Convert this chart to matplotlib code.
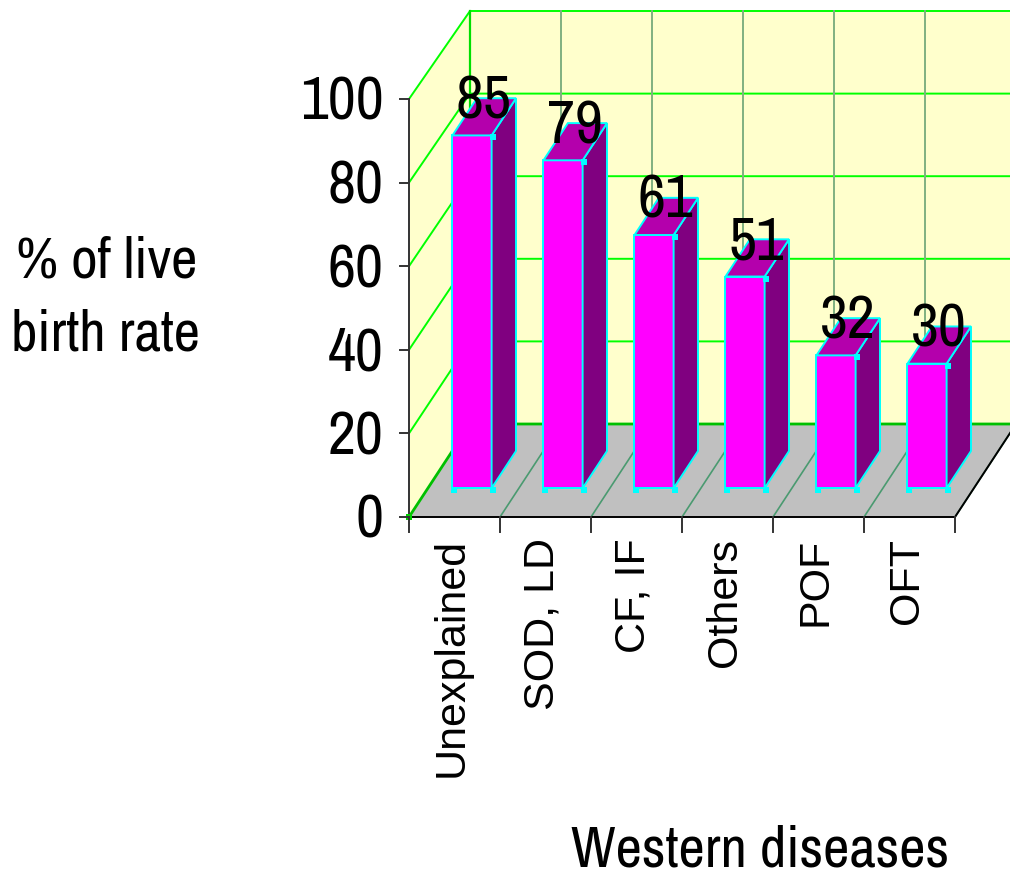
import logging
import matplotlib
matplotlib.use('Agg')
import matplotlib.pyplot as plt
from matplotlib.patches import Polygon
from matplotlib import font_manager

logging.getLogger('matplotlib.font_manager').setLevel(logging.ERROR)

categories = ['Unexplained', 'SOD, LD', 'CF, IF', 'Others', 'POF', 'OFT']
values = [85, 79, 61, 51, 32, 30]
y_ticks = [0, 20, 40, 60, 80, 100]

# narrow face if there is one, otherwise plain Liberation Sans
installed = {f.name for f in font_manager.fontManager.ttflist}
NARROW = [f for f in ['Archivo Narrow', 'Roboto Condensed', 'Liberation Sans'] if f in installed]
BIG = 44 if NARROW[0] != 'Liberation Sans' else 37
TITLE = 41.5 if NARROW[0] != 'Liberation Sans' else 34

WIDTH, HEIGHT = 1010, 878

# one category is 91 px wide, 100 % is 418 px high on the axis
CAT_PX = 91.0
VAL_PX = 4.18
X0, Y0 = 409, 518
DEPTH_X = 61 / CAT_PX
DEPTH_Y = 93 / VAL_PX
WALL_SCALE = 4.13 / VAL_PX  # back wall is a bit shorter than the axis
BAR_SCALE = 4.15 / VAL_PX

BAR_LEFT = 0.27
BAR_WIDTH = 0.43
BAR_FRONT = 0.31
BAR_DEPTH = 0.40


def proj(x, v, d=0.0):
    return x + d * DEPTH_X, v + d * DEPTH_Y


def back(x, v):
    return x + DEPTH_X, DEPTH_Y + v * WALL_SCALE


fig = plt.figure(figsize=(WIDTH / 100, HEIGHT / 100), dpi=100)
ax = fig.add_axes([0, 0, 1, 1])
ax.set_xlim(-X0 / CAT_PX, (WIDTH - X0) / CAT_PX)
ax.set_ylim(-(HEIGHT - Y0) / VAL_PX, Y0 / VAL_PX)
ax.axis('off')

n = len(categories)

# walls and floor
ax.add_patch(Polygon([proj(0, 0), proj(0, 100), back(0, 100), back(0, 0)], fc='#FFFFCC', ec='none', zorder=1))
ax.add_patch(Polygon([back(0, 0), back(0, 100), back(n + 1, 100), back(n + 1, 0)], fc='#FFFFCC', ec='none', zorder=1))
ax.add_patch(Polygon([proj(0, 0), proj(n, 0), back(n, 0), back(0, 0)], fc='#C0C0C0', ec='none', zorder=2))

# gridlines
for t in y_ticks:
    c = '#00C000' if t == 0 else '#00FF00'
    ax.plot(*zip(proj(0, t), back(0, t), back(n + 1, t)), color=c, lw=2 if t == 0 else 1.4,
            zorder=3, solid_capstyle='butt')
ax.plot(*zip(back(0, 0), back(0, 100)), color='#00E000', lw=1.6, zorder=3)
for i in range(1, n + 1):
    ax.plot(*zip(back(i, 0), back(i, 100)), color='#80B080', lw=1.4, zorder=3)
    ax.plot(*zip(proj(i, 0), back(i, 0)), color='#4A9A70', lw=1.2, zorder=3)

# bars
for i, val in enumerate(values):
    v = val * BAR_SCALE
    l = i + BAR_LEFT
    r = l + BAR_WIDTH
    f = BAR_FRONT
    b = BAR_FRONT + BAR_DEPTH
    edge = dict(ec='#00FFFF', lw=1.4, joinstyle='miter', zorder=5)
    ax.add_patch(Polygon([proj(l, 0, f), proj(r, 0, f), proj(r, v, f), proj(l, v, f)], fc='#FF00FF', **edge))
    ax.add_patch(Polygon([proj(r, 0, f), proj(r, 0, b), proj(r, v, b), proj(r, v, f)], fc='#800080', **edge))
    ax.add_patch(Polygon([proj(l, v, f), proj(r, v, f), proj(r, v, b), proj(l, v, b)], fc='#B400AC', **edge))
    corners = [proj(l, 0, f), proj(r, 0, f), proj(r, v, f)]
    ax.scatter([c[0] + 1.5 / CAT_PX for c in corners], [c[1] - 2 / VAL_PX for c in corners],
               marker='s', s=20, color='#00FFFF', linewidths=0, zorder=6)
    lx, ly = proj(l + BAR_WIDTH / 2, v, b)
    ax.text(lx - 13 / CAT_PX, ly + 3 / VAL_PX, str(val), fontsize=BIG, family=NARROW,
            ha='center', va='center_baseline', zorder=7)

# floor front edge and right edge, axis lines
ax.plot(*zip(proj(0, 0), proj(n, 0), back(n, 0)), color='black', lw=1.4, zorder=4)
ax.plot(*zip(proj(0, 0), proj(0, 100)), color='#333333', lw=1.4, zorder=4)
ax.scatter(*proj(0, 0), marker='s', s=14, color='#00D000', linewidths=0, zorder=4)

for t in y_ticks:
    ax.plot([-9 / CAT_PX, 0], [t, t], color='#333333', lw=1.4, zorder=4)
    ax.text(-25 / CAT_PX, t + 2 / VAL_PX, str(t), fontsize=BIG, family=NARROW, ha='right', va='center_baseline')
for i in range(n + 1):
    ax.plot([i, i], [0, -15 / VAL_PX], color='#333333', lw=1.4, zorder=4)
for i, name in enumerate(categories):
    ax.text(i + 0.5 - 3 / CAT_PX, -20 / VAL_PX, name, fontsize=31, family='Liberation Sans',
            rotation=90, ha='center', va='top')

ax.text(-302 / CAT_PX, 256 / VAL_PX, '% of live', fontsize=TITLE, family=NARROW, ha='center', va='center')
ax.text(-303 / CAT_PX, 183 / VAL_PX, 'birth rate', fontsize=TITLE, family=NARROW, ha='center', va='center')
# bottom of the figure is tight, keep this one just inside
ax.text(351 / CAT_PX, -333 / VAL_PX, 'Western diseases', fontsize=TITLE, family=NARROW, ha='center', va='center')

fig.savefig('out.png', dpi=100)
